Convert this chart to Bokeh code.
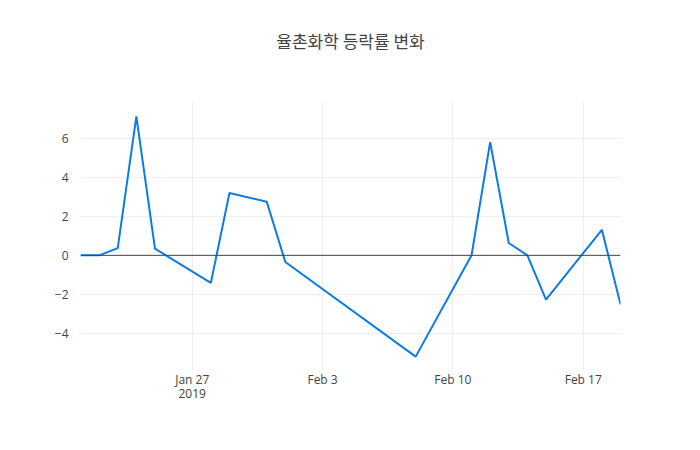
import pandas as pd
from bokeh.plotting import figure
from bokeh.models import FixedTicker, Range1d, Span, Title
from bokeh.embed import file_html
from bokeh.resources import INLINE

dates = ["2019-01-21", "2019-01-22", "2019-01-23", "2019-01-24", "2019-01-25",
         "2019-01-28", "2019-01-29", "2019-01-31", "2019-02-01", "2019-02-08",
         "2019-02-11", "2019-02-12", "2019-02-13", "2019-02-14", "2019-02-15",
         "2019-02-18", "2019-02-19"]
changes = [0.0, 0.0, 0.37, 7.12, 0.34, -1.41, 3.19, 2.75, -0.34, -5.19,
           0.0, 5.80, 0.63, 0.0, -2.27, 1.31, -2.51]
x_tick_dates = ["2019-01-27", "2019-02-03", "2019-02-10", "2019-02-17"]
x_tick_labels = ["Jan 27\n2019", "Feb 3", "Feb 10", "Feb 17"]
y_ticks = [-4, -2, 0, 2, 4, 6]
title_text = "율촌화학 등락률 변화"

x = pd.to_datetime(dates)
ms = lambda d: pd.Timestamp(d).value / 1e6

p = figure(width=700, height=450, x_axis_type="datetime", output_backend="svg",
           toolbar_location=None, min_border_left=80, min_border_right=80,
           min_border_top=100, min_border_bottom=80)
p.title = None
t = Title(text=title_text + "\n ", align="center", text_font="Noto Sans CJK KR",
          text_font_size="17px", text_color="#444444", text_font_style="normal",
          standoff=50)
p.add_layout(t, "above")

p.x_range = Range1d(ms(dates[0]), ms(dates[-1]))
p.y_range = Range1d(-5.9, 7.83)

p.line(x, changes, line_color="#0d7ae6", line_width=2)
p.add_layout(Span(location=0, dimension="width", line_color="#444444", line_width=1))

p.outline_line_color = None
p.background_fill_color = "white"
p.border_fill_color = "white"

for ax in (p.xaxis[0], p.yaxis[0]):
    ax.axis_line_color = None
    ax.major_tick_line_color = None
    ax.minor_tick_line_color = None
    ax.major_label_text_font = "Open Sans"
    ax.major_label_text_font_size = "12px"
    ax.major_label_text_color = "#444444"

p.xaxis[0].ticker = FixedTicker(ticks=[ms(d) for d in x_tick_dates])
p.xaxis[0].major_label_overrides = {ms(d): l for d, l in zip(x_tick_dates, x_tick_labels)}
p.xaxis[0].major_label_standoff = -6
p.xaxis[0].major_label_text_line_height = 0.85
p.yaxis[0].ticker = FixedTicker(ticks=y_ticks)
p.yaxis[0].major_label_overrides = {v: (str(v).replace("-", "\u2212")) for v in y_ticks}
p.yaxis[0].major_label_standoff = 6

p.xgrid.grid_line_color = "#eeeeee"
p.ygrid.grid_line_color = "#eeeeee"
p.xgrid.ticker = p.xaxis[0].ticker
p.ygrid.ticker = p.yaxis[0].ticker

open("out.html", "w").write(file_html(p, INLINE))
